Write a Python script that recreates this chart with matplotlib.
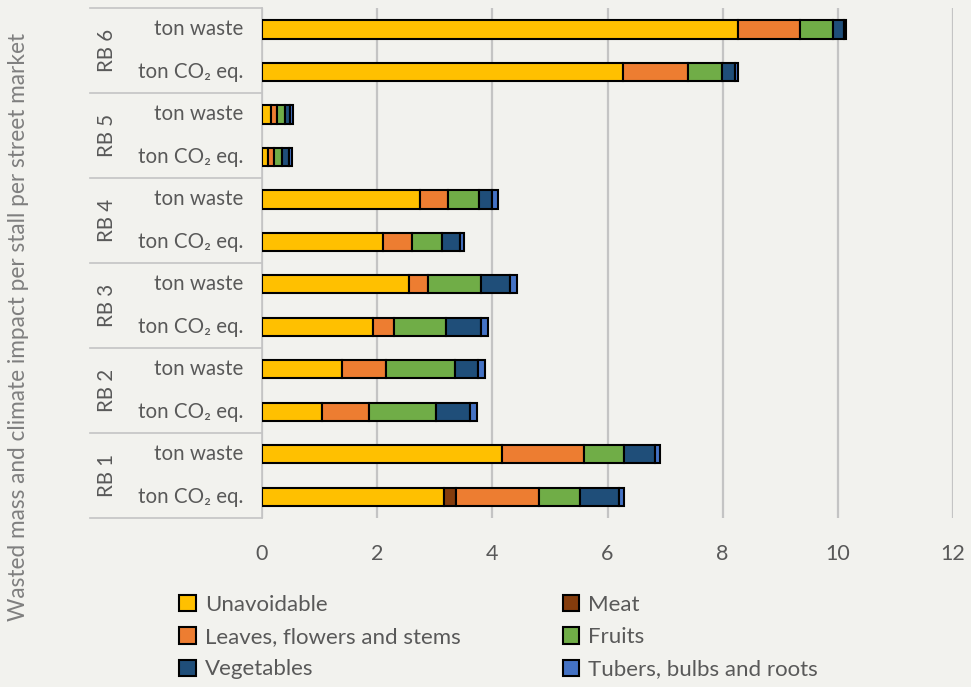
import numpy as np
import matplotlib.pyplot as plt

# rows from bottom to top: RB1 CO2, RB1 waste, RB2 CO2, ...
markets = ["RB 1", "RB 2", "RB 3", "RB 4", "RB 5", "RB 6"]
row_labels = ["ton CO\u2082 eq.", "ton waste"] * 6

# segment widths per row (same order as row_labels)
unavoidable = [3.16, 4.17, 1.04, 1.39, 1.93, 2.56, 2.10, 2.74, 0.10, 0.16, 6.27, 8.26]
meat        = [0.21, 0.00, 0.00, 0.00, 0.00, 0.00, 0.00, 0.00, 0.00, 0.00, 0.00, 0.00]
leaves      = [1.44, 1.42, 0.82, 0.77, 0.37, 0.32, 0.50, 0.49, 0.11, 0.10, 1.13, 1.08]
fruits      = [0.71, 0.70, 1.16, 1.19, 0.90, 0.93, 0.52, 0.54, 0.14, 0.14, 0.59, 0.57]
vegetables  = [0.68, 0.53, 0.59, 0.40, 0.61, 0.50, 0.32, 0.23, 0.12, 0.09, 0.22, 0.19]
tubers      = [0.08, 0.09, 0.13, 0.13, 0.12, 0.12, 0.06, 0.09, 0.05, 0.05, 0.05, 0.05]

series = [
    ("Unavoidable", unavoidable, "#FFC000"),
    ("Meat", meat, "#843C0C"),
    ("Leaves, flowers and stems", leaves, "#ED7D31"),
    ("Fruits", fruits, "#70AD47"),
    ("Vegetables", vegetables, "#1F4E79"),
    ("Tubers, bulbs and roots", tubers, "#4472C4"),
]

bg = "#f2f2ee"
txt = "#595959"
plt.rcParams["font.family"] = ["Lato", "DejaVu Sans"]

fig = plt.figure(figsize=(9.71, 6.87), dpi=100, facecolor=bg)
ax = fig.add_axes([0.2698, 0.246, 0.7117, 0.742], facecolor=bg)

y = np.arange(len(row_labels))
left = np.zeros(len(row_labels))
handles = {}
for name, vals, col in series:
    vals = np.array(vals)
    keep = vals > 0
    h = ax.barh(y[keep], vals[keep], left=left[keep], height=0.43, color=col,
                edgecolor="black", linewidth=1.5, zorder=3, label=name)
    handles[name] = h
    left += vals

ax.set_xlim(0, 12)
ax.set_ylim(-0.5, 11.5)
ax.set_xticks(np.arange(0, 13, 2))
ax.xaxis.grid(True, color="#c4c4c4", linewidth=1.6, zorder=0)
ax.tick_params(axis="x", length=0, labelsize=15.5, labelcolor=txt, pad=19)
ax.set_yticks([])
for s in ["top", "right", "bottom"]:
    ax.spines[s].set_visible(False)
ax.spines["left"].set_color("#c4c4c4")
ax.spines["left"].set_linewidth(1.2)

# two-level category axis drawn in axes-fraction x / data y
tr = ax.get_yaxis_transform()
x_box = -172 / 693.0
for i, lab in enumerate(row_labels):
    ax.text(-19 / 693.0, y[i], lab, transform=tr, ha="right", va="center",
            fontsize=14.8, color=txt)
for g, m in enumerate(markets):
    ax.text(-155 / 693.0, 2 * g + 0.5, m, transform=tr, ha="center", va="center",
            rotation=90, fontsize=14.8, color=txt)
for b in np.arange(-0.5, 12, 2):
    ax.plot([x_box, 0], [b, b], transform=tr, color="#c4c4c4", linewidth=1.2,
            clip_on=False)

fig.text(0.019, 0.524, "Wasted mass and climate impact per stall per street market",
         rotation=90, ha="center", va="center", fontsize=16.3, color="#7f7f7f")

order = ["Unavoidable", "Leaves, flowers and stems", "Vegetables",
         "Meat", "Fruits", "Tubers, bulbs and roots"]
leg = fig.legend([handles[k] for k in order], order, ncol=2, loc="upper left",
                 bbox_to_anchor=(0.164, 0.163), frameon=False, fontsize=16,
                 handlelength=0.75, handleheight=0.75, handletextpad=0.4,
                 columnspacing=4.6, labelspacing=0.55, borderpad=0.4)
for t in leg.get_texts():
    t.set_color(txt)

fig.savefig("out.png", dpi=100, facecolor=bg)
